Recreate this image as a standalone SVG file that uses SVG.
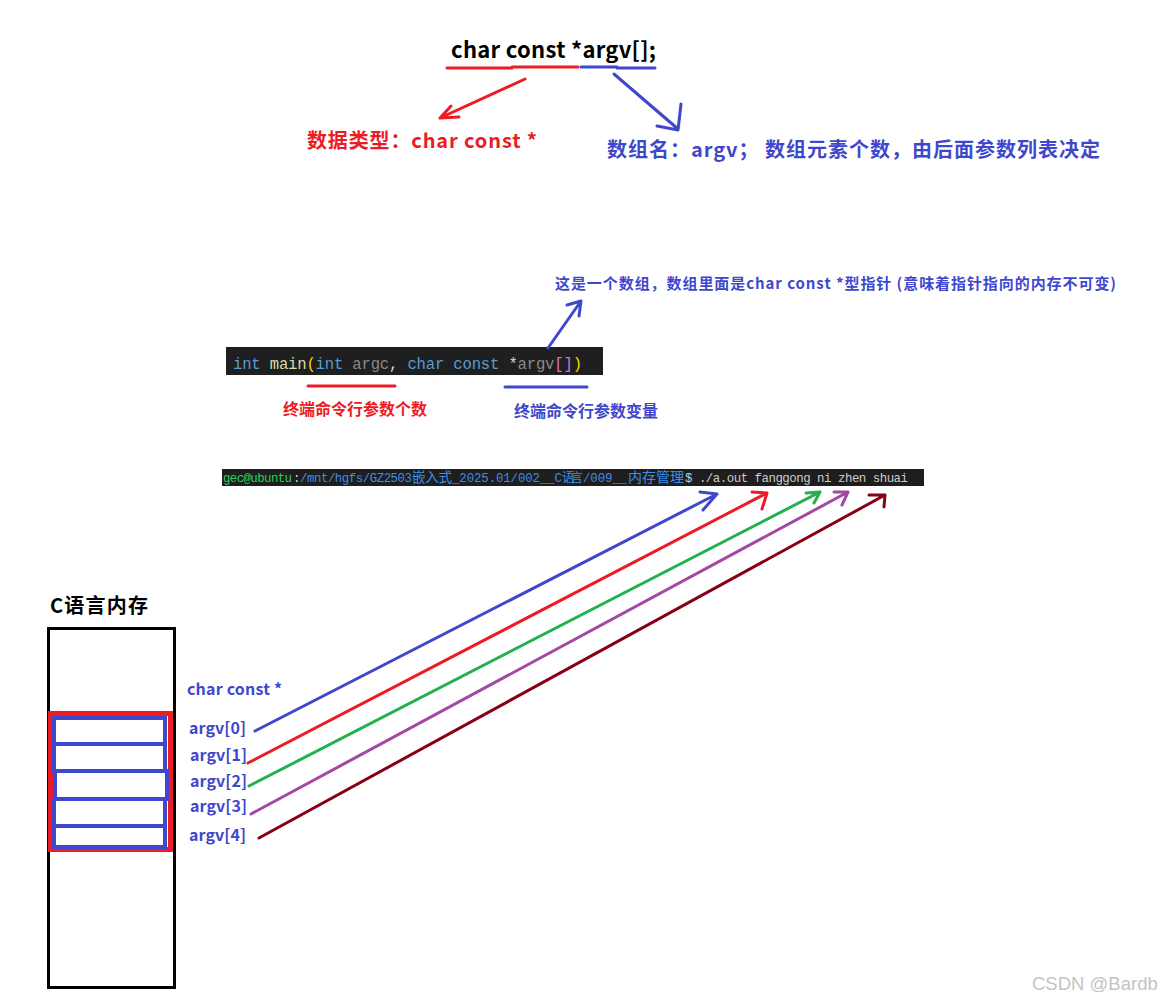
<svg xmlns="http://www.w3.org/2000/svg" width="1175" height="1003" viewBox="0 0 1175 1003">
<defs>
<style>
.cjk{font-family:"Noto Sans CJK SC","Liberation Sans",sans-serif;font-weight:bold}
.red{fill:#ed1c24}
.blue{fill:#3f48cc}
.mono{font-family:"Liberation Mono","DejaVu Sans Mono",monospace}
.tm{font-family:"Liberation Mono","DejaVu Sans Mono",monospace;font-size:12.4px}
.tcjk{font-family:"Noto Sans CJK SC",sans-serif}
.ln{fill:none;stroke-width:3;stroke-linecap:round;stroke-linejoin:round}
.r{stroke:#ed1c24}
.b{stroke:#3f48cc}
.g{stroke:#22b14c}
.p{stroke:#a349a4}
.d{stroke:#880015}
</style>
</defs>
<rect width="1175" height="1003" fill="#ffffff"/>

<g id="title">
<text x="451" y="58" class="cjk" font-size="22" fill="#000" textLength="205">char const *argv[];</text>
</g>
<g id="type-label">
<text x="307" y="148" class="cjk red" font-size="20" textLength="230">数据类型：char const *</text>
</g>
<g id="name-label">
<text x="607" y="157" class="cjk blue" font-size="20" textLength="493">数组名：argv； 数组元素个数，由后面参数列表决定</text>
</g>
<g id="array-note">
<text x="555" y="289" class="cjk blue" font-size="15" textLength="561">这是一个数组，数组里面是char const *型指针 (意味着指针指向的内存不可变)</text>
</g>

<g id="code-line">
<rect x="226" y="347" width="377" height="28" fill="#1f1f1f"/>
<text x="233" y="369" class="mono" font-size="15.6" textLength="349" xml:space="preserve"><tspan fill="#569cd6">int</tspan><tspan fill="#d4d4d4"> </tspan><tspan fill="#dcdcaa">main</tspan><tspan fill="#ffd700">(</tspan><tspan fill="#569cd6">int</tspan><tspan fill="#d4d4d4"> </tspan><tspan fill="#8a8a8a">argc</tspan><tspan fill="#d4d4d4">, </tspan><tspan fill="#569cd6">char const</tspan><tspan fill="#d4d4d4"> *</tspan><tspan fill="#8a8a8a">argv</tspan><tspan fill="#da70d6">[]</tspan><tspan fill="#ffd700">)</tspan></text>
</g>
<g id="argc-label">
<text x="283" y="415" class="cjk red" font-size="16" textLength="144">终端命令行参数个数</text>
</g>
<g id="argv-label">
<text x="514" y="417" class="cjk blue" font-size="16" textLength="144">终端命令行参数变量</text>
</g>

<g id="terminal-line">
<rect x="222" y="469" width="702" height="17" fill="#1e1e1e"/>
<text x="223" y="482" class="tm" fill="#23d160" textLength="69">gec@ubuntu</text>
<text x="293" y="482" class="tm" fill="#cccccc">:</text>
<text x="300" y="482" class="tm" fill="#3b8eea" textLength="112">/mnt/hgfs/GZ2503</text>
<text x="412" y="482" class="tcjk" font-size="13.5" fill="#3b8eea" textLength="40">嵌入式</text>
<text x="452" y="482" class="tm" fill="#3b8eea" textLength="110">_2025.01/002__C</text>
<text x="562" y="482" class="tcjk" font-size="12.5" fill="#3b8eea" textLength="21">语言</text>
<text x="583" y="482" class="tm" fill="#3b8eea" textLength="44">/009__</text>
<text x="628" y="482" class="tcjk" font-size="14" fill="#3b8eea" textLength="56">内存管理</text>
<text x="685" y="482" class="tm" fill="#cccccc" textLength="223" xml:space="preserve">$ ./a.out fanggong ni zhen shuai</text>
</g>

<g id="memory">
<text x="50" y="613" class="cjk" font-size="20" fill="#000" textLength="98">C语言内存</text>
<rect x="48.5" y="628.5" width="126" height="359" fill="none" stroke="#000" stroke-width="3"/>
<rect x="50.5" y="713.5" width="120" height="136" fill="none" stroke="#ed1c24" stroke-width="5"/>
<g fill="none" stroke="#3f48cc" stroke-width="4">
<rect x="54" y="718" width="111" height="26"/>
<rect x="54" y="744" width="111" height="27"/>
<rect x="55" y="771" width="112" height="28"/>
<rect x="54" y="799" width="111" height="27"/>
<rect x="54" y="826" width="111" height="21"/>
</g>
</g>

<g id="element-labels">
<text x="187" y="695" class="cjk blue" font-size="16" textLength="95">char const *</text>
<text x="189" y="734" class="cjk blue" font-size="16" textLength="57">argv[0]</text>
<text x="190" y="761" class="cjk blue" font-size="16" textLength="57">argv[1]</text>
<text x="190" y="787" class="cjk blue" font-size="16" textLength="57">argv[2]</text>
<text x="190" y="812" class="cjk blue" font-size="16" textLength="57">argv[3]</text>
<text x="189" y="841" class="cjk blue" font-size="16" textLength="57">argv[4]</text>
</g>

<g id="connectors">
<polyline class="ln r" points="447,68 512,68 512,67 578,67"/>
<polyline class="ln b" points="581,67 617,67 617,68 655,68"/>
<path class="ln r" d="M525,79 L440,118 M451,106 L440,118 L459,117"/>
<path class="ln b" d="M614,74 L678,129 M681,104 L678,130 L657,126"/>
<line class="ln r" x1="308" y1="386" x2="395" y2="386"/>
<line class="ln b" x1="505" y1="387" x2="587" y2="387"/>
<path class="ln b" d="M548,348 L581,301 M567,305 L581,301 L579,316"/>
<path class="ln b" d="M255,731 L717,494 M700,492 L717,494 L703,510"/>
<path class="ln r" d="M248,763 L767,493 M752,492 L767,493 L762,509"/>
<path class="ln g" d="M249,786 L820,492 M806,493 L820,492 L814,503"/>
<path class="ln p" d="M251,814 L848,492 M834,492 L848,492 L842,505"/>
<path class="ln d" d="M259,838 L885,495 M869,495 L885,495 L884,507"/>
</g>

<g id="watermark">
<text x="1032" y="990" font-family="Liberation Sans, Arial, sans-serif" font-size="18.5" fill="#c4c4c4">CSDN @Bardb</text>
</g>
</svg>
